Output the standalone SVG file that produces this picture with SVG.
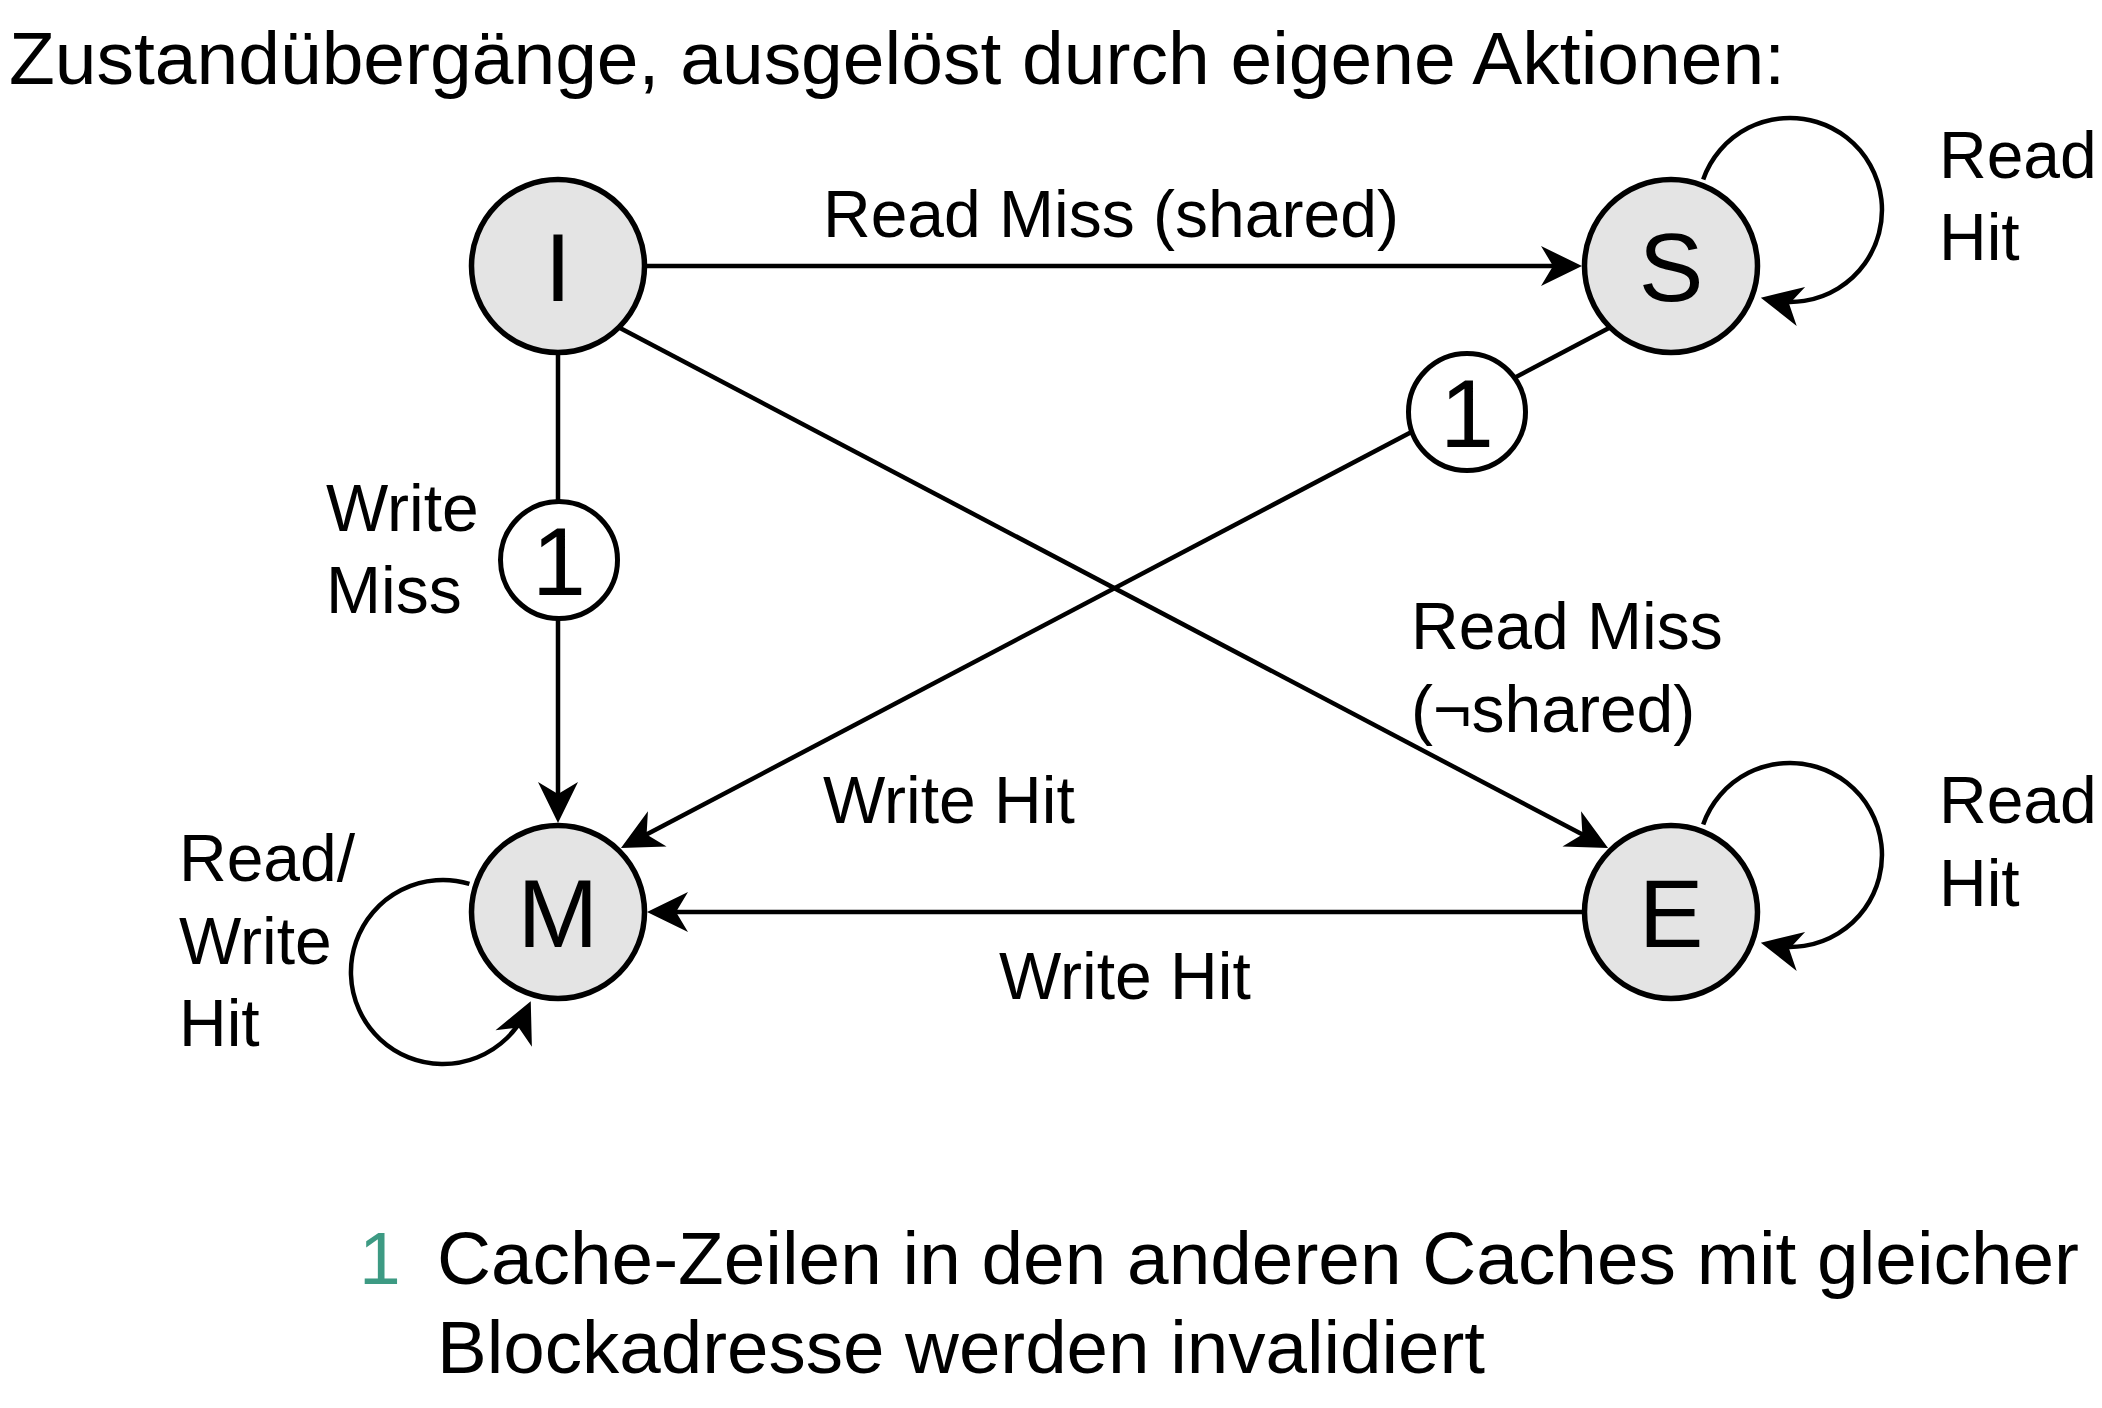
<svg xmlns="http://www.w3.org/2000/svg" width="2102" height="1408" viewBox="0 0 2102 1408">
  <style>
    .txt { font-family: "Liberation Sans", Arial, Helvetica, sans-serif; fill: #000; }
    .title { font-size: 75px; }
    .lbl { font-size: 66px; }
    .big { font-size: 97px; text-anchor: middle; }
    .node { fill: #e4e4e4; stroke: #000; stroke-width: 5.5; }
    .inv { fill: #fff; stroke: #000; stroke-width: 5; }
    .edge { fill: none; stroke: #000; stroke-width: 4.5; }
    .note { fill: #3d9a83; }
  </style>
  <defs>
    <marker id="arrow" markerUnits="userSpaceOnUse" viewBox="-32 -21 44 42" markerWidth="44" markerHeight="42" refX="0" refY="0" orient="auto" overflow="visible">
      <path d="M10,0 L-31,-20 L-19,0 L-31,20 Z" fill="#000"/>
    </marker>
  </defs>
  <rect width="2102" height="1408" fill="#fff"/>

  <text class="txt title" x="9" y="84" textLength="1776" lengthAdjust="spacingAndGlyphs">Zustandübergänge, ausgelöst durch eigene Aktionen:</text>

  <g id="connectors">
    <line class="edge" x1="647" y1="266" x2="1572" y2="266" marker-end="url(#arrow)"/>
    <line class="edge" x1="558" y1="355" x2="558" y2="813" marker-end="url(#arrow)"/>
    <line class="edge" x1="620" y1="328" x2="1599.2" y2="843.3" marker-end="url(#arrow)"/>
    <line class="edge" x1="1609" y1="328" x2="629.8" y2="843.3" marker-end="url(#arrow)"/>
    <line class="edge" x1="1582" y1="912" x2="657" y2="912" marker-end="url(#arrow)"/>
    <path class="edge" d="M1703.2,179.4 A92,92 0 1 1 1770.6,299.9" marker-end="url(#arrow)"/>
    <path class="edge" d="M1703.2,824.4 A92,92 0 1 1 1770.6,944.9" marker-end="url(#arrow)"/>
    <path class="edge" d="M469.4,883.9 A92,92 0 1 0 526.6,1010.3" marker-end="url(#arrow)"/>
    <g id="inv1">
      <circle class="inv" cx="559" cy="560" r="58.5"/>
      <text class="txt big" x="559" y="595">1</text>
    </g>
    <g id="inv2">
      <circle class="inv" cx="1467" cy="412" r="58.5"/>
      <text class="txt big" x="1467" y="447">1</text>
    </g>
  </g>

  <g id="node-I">
    <circle class="node" cx="558" cy="266" r="86.5"/>
    <text class="txt big" x="558" y="301">I</text>
  </g>
  <g id="node-S">
    <circle class="node" cx="1671" cy="266" r="86.5"/>
    <text class="txt big" x="1671" y="301">S</text>
  </g>
  <g id="node-M">
    <circle class="node" cx="558" cy="912" r="86.5"/>
    <text class="txt big" x="558" y="947">M</text>
  </g>
  <g id="node-E">
    <circle class="node" cx="1671" cy="912" r="86.5"/>
    <text class="txt big" x="1671" y="947">E</text>
  </g>

  <g id="labels">
    <text class="txt lbl" x="823" y="237">Read Miss (shared)</text>
    <text class="txt lbl" x="326" y="531">Write</text>
    <text class="txt lbl" x="326" y="613">Miss</text>
    <text class="txt lbl" x="1939" y="178">Read</text>
    <text class="txt lbl" x="1939" y="260">Hit</text>
    <text class="txt lbl" x="1939" y="823">Read</text>
    <text class="txt lbl" x="1939" y="906">Hit</text>
    <text class="txt lbl" x="179" y="881">Read/</text>
    <text class="txt lbl" x="179" y="964">Write</text>
    <text class="txt lbl" x="179" y="1046">Hit</text>
    <text class="txt lbl" x="1411" y="649">Read Miss</text>
    <text class="txt lbl" x="1411" y="732">(¬shared)</text>
    <text class="txt lbl" x="823" y="823">Write Hit</text>
    <text class="txt lbl" x="999" y="999">Write Hit</text>
  </g>

  <g id="footnote">
    <text class="txt title note" x="359" y="1284">1</text>
    <text class="txt title" x="437" y="1284" textLength="1642" lengthAdjust="spacingAndGlyphs">Cache-Zeilen in den anderen Caches mit gleicher</text>
    <text class="txt title" x="437" y="1373" textLength="1048" lengthAdjust="spacingAndGlyphs">Blockadresse werden invalidiert</text>
  </g>
</svg>
